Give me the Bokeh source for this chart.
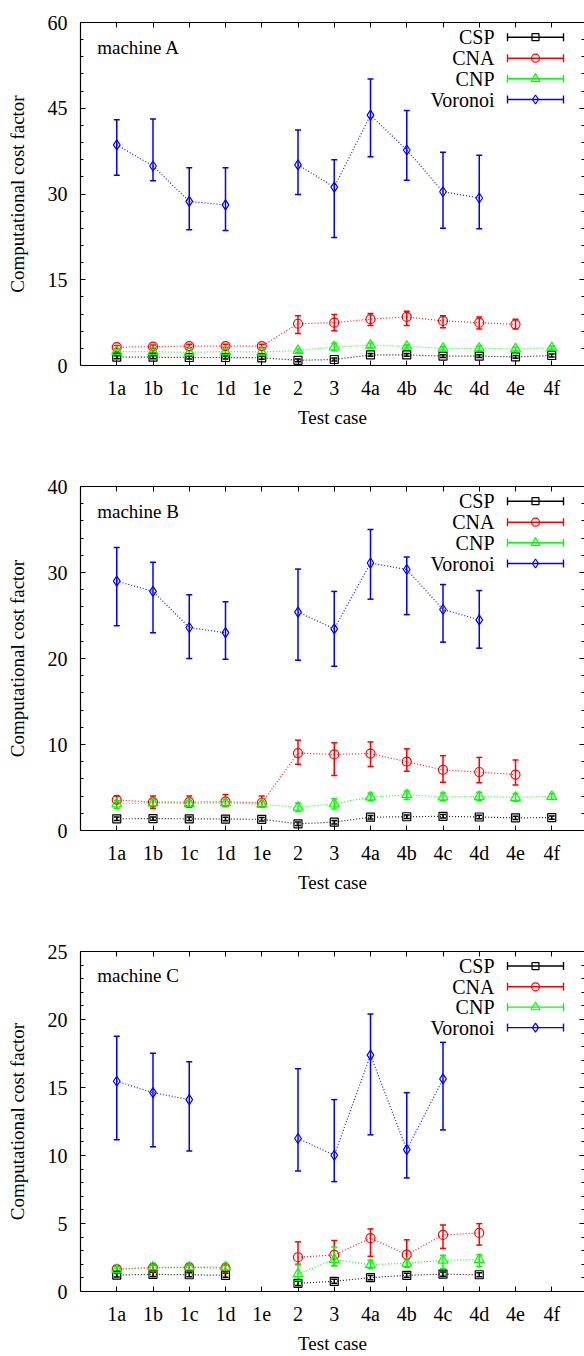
from bokeh.plotting import figure
from bokeh.layouts import column
from bokeh.models import (Range1d, FixedTicker, LinearAxis, Whisker, TeeHead,
                          ColumnDataSource, Label)
from bokeh.embed import file_html
from bokeh.resources import INLINE

nan = float("nan")

cases = ["1a", "1b", "1c", "1d", "1e", "2", "3", "4a", "4b", "4c", "4d", "4e", "4f"]
series_names = ["CSP", "CNA", "CNP", "Voronoi"]

# ---------------- machine A ----------------
a_csp = [1.45, 1.45, 1.4, 1.4, 1.35, 0.9, 1.05, 1.85, 1.85, 1.65, 1.65, 1.5, 1.75]
a_csp_lo = [1.2, 1.2, 1.15, 1.15, 1.1, 0.65, 0.8, 1.6, 1.6, 1.4, 1.4, 1.25, 1.5]
a_csp_hi = [1.7, 1.7, 1.65, 1.65, 1.6, 1.15, 1.3, 2.1, 2.1, 1.9, 1.9, 1.75, 2.0]
a_cna = [3.2, 3.3, 3.4, 3.4, 3.4, 7.3, 7.5, 8.1, 8.5, 7.8, 7.5, 7.2, nan]
a_cna_lo = [2.9, 3.0, 3.1, 3.1, 3.1, 5.6, 6.1, 7.0, 7.0, 6.6, 6.4, 6.4, nan]
a_cna_hi = [3.5, 3.6, 3.7, 3.7, 3.7, 8.7, 8.9, 9.1, 9.5, 8.7, 8.5, 8.1, nan]
a_cnp = [2.45, 2.4, 2.3, 2.45, 2.35, 2.6, 3.25, 3.55, 3.35, 3.0, 3.0, 2.9, 3.1]
a_cnp_lo = [2.15, 2.1, 2.0, 2.15, 2.05, 2.3, 2.6, 3.15, 3.05, 2.7, 2.6, 2.6, 2.8]
a_cnp_hi = [2.75, 2.7, 2.6, 2.75, 2.65, 2.9, 3.9, 3.95, 3.65, 3.3, 3.4, 3.2, 3.4]
a_vor = [38.6, 34.9, 28.7, 28.1, nan, 35.1, 31.2, 43.8, 37.7, 30.4, 29.3, nan, nan]
a_vor_lo = [33.3, 32.3, 23.75, 23.6, nan, 29.9, 22.4, 36.5, 32.4, 24.0, 23.9, nan, nan]
a_vor_hi = [43.0, 43.1, 34.6, 34.6, nan, 41.2, 36.0, 50.1, 44.6, 37.3, 36.8, nan, nan]
a_yticks = [0, 15, 30, 45, 60]
a_yminor = 3

# ---------------- machine B ----------------
b_csp = [1.36, 1.38, 1.36, 1.33, 1.3, 0.78, 0.97, 1.55, 1.6, 1.65, 1.57, 1.47, 1.5]
b_csp_lo = [1.16, 1.18, 1.16, 1.13, 1.1, 0.58, 0.77, 1.35, 1.4, 1.45, 1.37, 1.27, 1.3]
b_csp_hi = [1.56, 1.58, 1.56, 1.53, 1.5, 0.98, 1.17, 1.75, 1.8, 1.85, 1.77, 1.67, 1.7]
b_cna = [3.55, 3.3, 3.3, 3.35, 3.2, 9.0, 8.85, 8.95, 8.0, 7.05, 6.8, 6.5, nan]
b_cna_lo = [3.2, 2.6, 2.7, 2.8, 2.7, 7.7, 6.4, 7.45, 6.9, 5.6, 5.55, 5.3, nan]
b_cna_hi = [4.0, 4.0, 4.0, 4.2, 4.0, 10.5, 10.2, 10.3, 9.5, 8.7, 8.5, 8.2, nan]
b_cnp = [3.1, 3.2, 3.15, 3.2, 3.05, 2.7, 3.1, 3.9, 4.15, 3.9, 3.95, 3.85, 3.95]
b_cnp_lo = [2.6, 2.8, 2.8, 2.8, 2.7, 2.2, 2.5, 3.45, 3.6, 3.45, 3.45, 3.4, 3.6]
b_cnp_hi = [3.5, 3.6, 3.5, 3.6, 3.4, 3.2, 3.7, 4.35, 4.6, 4.35, 4.45, 4.3, 4.3]
b_vor = [29.0, 27.8, 23.6, 23.0, nan, 25.4, 23.45, 31.1, 30.35, 25.7, 24.5, nan, nan]
b_vor_lo = [23.8, 23.0, 20.0, 19.9, nan, 19.8, 19.1, 26.9, 25.1, 21.9, 21.2, nan, nan]
b_vor_hi = [32.9, 31.2, 27.4, 26.6, nan, 30.4, 27.8, 35.0, 31.8, 28.6, 27.9, nan, nan]
b_yticks = [0, 10, 20, 30, 40]
b_yminor = 2

# ---------------- machine C ----------------
c_csp = [1.21, 1.26, 1.23, 1.19, nan, 0.6, 0.75, 1.02, 1.19, 1.28, 1.23, nan, nan]
c_csp_lo = [1.06, 1.11, 1.08, 1.04, nan, 0.45, 0.6, 0.87, 1.04, 1.13, 1.08, nan, nan]
c_csp_hi = [1.36, 1.41, 1.38, 1.34, nan, 0.75, 0.9, 1.17, 1.34, 1.43, 1.38, nan, nan]
c_cna = [1.65, 1.74, 1.77, 1.72, nan, 2.52, 2.69, 3.92, 2.71, 4.16, 4.31, nan, nan]
c_cna_lo = [1.45, 1.55, 1.55, 1.5, nan, 2.0, 1.9, 2.59, 1.8, 3.17, 3.41, nan, nan]
c_cna_hi = [1.85, 1.95, 1.95, 1.95, nan, 3.65, 3.75, 4.6, 3.8, 4.89, 4.99, nan, nan]
c_cnp = [1.62, 1.8, 1.8, 1.8, nan, 1.3, 2.35, 1.98, 2.08, 2.3, 2.35, nan, nan]
c_cnp_lo = [1.4, 1.55, 1.55, 1.55, nan, 0.8, 1.89, 1.7, 1.8, 1.69, 1.82, nan, nan]
c_cnp_hi = [1.85, 2.05, 2.05, 2.05, nan, 1.95, 3.27, 2.3, 2.35, 2.66, 2.71, nan, nan]
c_vor = [15.46, 14.62, 14.11, nan, nan, 11.25, 10.02, 17.38, 10.43, 15.63, nan, nan, nan]
c_vor_lo = [11.16, 10.65, 10.33, nan, nan, 8.86, 8.08, 11.52, 8.35, 11.88, nan, nan, nan]
c_vor_hi = [18.76, 17.52, 16.89, nan, nan, 16.38, 14.11, 20.4, 14.62, 18.32, nan, nan, nan]
c_yticks = [0, 5, 10, 15, 20, 25]
c_yminor = 1

# ---------------- styling ----------------
FONT = "Liberation Serif"
colors = {"CSP": "#000000", "CNA": "#ff0000", "CNP": "#00ff00", "Voronoi": "#0000ff"}
markers = {"CSP": "square", "CNA": "circle", "CNP": "triangle", "Voronoi": "diamond"}
msize = {"CSP": 8, "CNA": 9, "CNP": 10, "Voronoi": 10}

FIG_W = 584
LEFT = 80
PX_PER_CASE = 36.25
X_END = (FIG_W - LEFT) / PX_PER_CASE
xpos = [i + 1 for i in range(len(cases))]


def make_panel(title, data, yticks, yminor, height, top_border, frame_h):
    ymax = yticks[-1]
    bottom_border = height - top_border - frame_h
    p = figure(width=FIG_W, height=height, output_backend="svg", toolbar_location=None,
               x_range=Range1d(0, X_END), y_range=Range1d(0, ymax),
               x_axis_type=None, y_axis_type=None,
               min_border_left=LEFT, min_border_right=0, min_border_top=top_border,
               min_border_bottom=bottom_border)
    p.outline_line_color = None
    p.background_fill_color = "white"
    p.border_fill_color = "white"

    minor = [v * yminor for v in range(int(ymax / yminor) + 1) if v * yminor not in yticks]

    ly = LinearAxis(ticker=FixedTicker(ticks=yticks, minor_ticks=minor),
                    axis_label="Computational cost factor")
    bx = LinearAxis(ticker=FixedTicker(ticks=xpos),
                    major_label_overrides={x: c for x, c in zip(xpos, cases)},
                    axis_label="Test case")
    tx = LinearAxis(ticker=FixedTicker(ticks=xpos), major_label_text_color=None,
                    major_label_text_font_size="1px", major_label_standoff=0)
    ry = LinearAxis(ticker=FixedTicker(ticks=yticks, minor_ticks=minor),
                    major_label_text_color=None, major_label_text_font_size="1px",
                    major_label_standoff=0, axis_line_color=None)
    for ax in (ly, bx, tx, ry):
        ax.major_tick_in = 5
        ax.major_tick_out = 0
        ax.minor_tick_in = 3
        ax.minor_tick_out = 0
        ax.major_tick_line_color = "black"
        ax.minor_tick_line_color = "black"
        ax.major_label_text_font = FONT
        ax.axis_label_text_font = FONT
        ax.axis_label_text_font_style = "normal"
        ax.axis_label_text_color = "black"
    ly.major_label_text_color = "black"
    bx.major_label_text_color = "black"
    ly.major_label_text_font_size = "20px"
    ly.axis_label_text_font_size = "19px"
    ly.major_label_standoff = 13
    ly.axis_label_standoff = 17
    bx.major_label_text_font_size = "20px"
    bx.axis_label_text_font_size = "19px"
    bx.major_label_standoff = 11
    bx.axis_label_standoff = 5
    bx.minor_tick_line_color = None
    tx.minor_tick_line_color = None
    for ax in (ly, bx, tx):
        ax.axis_line_color = "black"
        ax.axis_line_width = 1.2
    p.add_layout(ly, "left")
    p.add_layout(bx, "below")
    p.add_layout(tx, "above")
    p.add_layout(ry, "right")

    for name, (mean, lo, hi) in zip(series_names, data):
        col = colors[name]
        src = ColumnDataSource(dict(x=xpos, y=mean, lo=lo, hi=hi))
        p.line("x", "y", source=src, line_color=col, line_dash="1 2", line_width=1.2,
               line_alpha=0.9)
        p.add_layout(Whisker(source=src, base="x", lower="lo", upper="hi",
                             line_color=col, line_width=1.5,
                             lower_head=TeeHead(size=6, line_color=col, line_width=1.5),
                             upper_head=TeeHead(size=6, line_color=col, line_width=1.5)))
        p.scatter("x", "y", source=src, marker=markers[name], size=msize[name],
                  fill_color=None, line_color=col, line_width=1.2)

    # legend: label text on the left, error-bar sample on the right (gnuplot style)
    row_off = [14.7, 35.7, 56.3, 77.0]
    x_text = (494 - LEFT) / PX_PER_CASE
    x0 = (507 - LEFT) / PX_PER_CASE
    x1 = (563 - LEFT) / PX_PER_CASE
    xm = (x0 + x1) / 2
    for name, off in zip(series_names, row_off):
        yy = ymax * (1 - off / frame_h)
        col = colors[name]
        p.add_layout(Label(x=x_text, y=yy, text=name, text_align="right",
                           text_baseline="middle", text_font=FONT,
                           text_font_size="20px", text_color="black"))
        lsrc = ColumnDataSource(dict(y=[yy], a=[x0], b=[x1], xm=[xm]))
        p.add_layout(Whisker(source=lsrc, base="y", lower="a", upper="b", dimension="width",
                             line_color=col, line_width=1.4,
                             lower_head=TeeHead(size=8, line_color=col, line_width=1.4),
                             upper_head=TeeHead(size=8, line_color=col, line_width=1.4)))
        p.scatter("xm", "y", source=lsrc, marker=markers[name], size=msize[name] - 1,
                  fill_color=None, line_color=col, line_width=1.2)

    p.add_layout(Label(x=(96.7 - LEFT) / PX_PER_CASE, y=ymax * (1 - 24.7 / frame_h),
                       text=title, text_baseline="alphabetic", text_font=FONT,
                       text_font_size="19px", text_color="black"))
    p.xgrid.visible = False
    p.ygrid.visible = False
    return p


pa = make_panel("machine A",
                [(a_csp, a_csp_lo, a_csp_hi), (a_cna, a_cna_lo, a_cna_hi),
                 (a_cnp, a_cnp_lo, a_cnp_hi), (a_vor, a_vor_lo, a_vor_hi)],
                a_yticks, a_yminor, 472, 22, 343)
pb = make_panel("machine B",
                [(b_csp, b_csp_lo, b_csp_hi), (b_cna, b_cna_lo, b_cna_hi),
                 (b_cnp, b_cnp_lo, b_cnp_hi), (b_vor, b_vor_lo, b_vor_hi)],
                b_yticks, b_yminor, 465, 14, 344)
pc = make_panel("machine C",
                [(c_csp, c_csp_lo, c_csp_hi), (c_cna, c_cna_lo, c_cna_hi),
                 (c_cnp, c_cnp_lo, c_cnp_hi), (c_vor, c_vor_lo, c_vor_hi)],
                c_yticks, c_yminor, 419, 14, 344)

layout = column(pa, pb, pc, spacing=0)
open("out.html", "w").write(file_html(layout, INLINE))
